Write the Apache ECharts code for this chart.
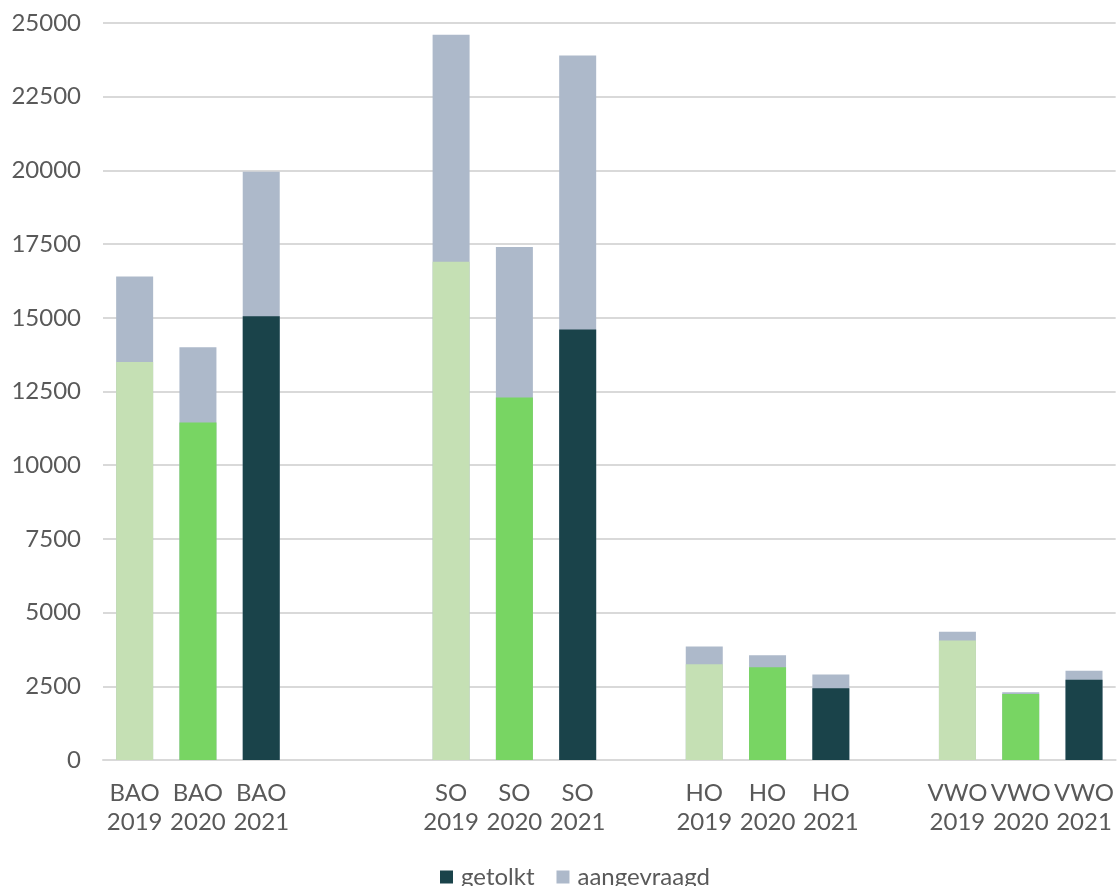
<!DOCTYPE html>
<html>
<head>
<meta charset="utf-8">
<script src="https://cdn.jsdelivr.net/npm/echarts@6/dist/echarts.min.js"></script>
<style>html,body{margin:0;padding:0;background:#fff}#c{width:1117px;height:886px}</style>
</head>
<body>
<div id="c"></div>
<script>
// Categories ('' = empty spacer slots between groups)
var categories = ['BAO\n2019','BAO\n2020','BAO\n2021','','','SO\n2019','SO\n2020','SO\n2021','','HO\n2019','HO\n2020','HO\n2021','','VWO\n2019','VWO\n2020','VWO\n2021'];
var years = ['2019','2020','2021',null,null,'2019','2020','2021',null,'2019','2020','2021',null,'2019','2020','2021'];
// getolkt (interpreted) values
var getolkt = [13500, 11450, 15050, null, null, 16900, 12300, 14600, null, 3250, 3150, 2430, null, 4050, 2240, 2720];
// aangevraagd (requested) totals
var aangevraagd = [16400, 14000, 19950, null, null, 24600, 17400, 23900, null, 3850, 3550, 2900, null, 4350, 2300, 3030];
var yearColors = {'2019':'#C5E0B4','2020':'#78D563','2021':'#1A434A'};
var yTicks = {min:0, max:25000, interval:2500};

var txt = '#595959';
var font = 'Lato, "Open Sans", sans-serif';
var chart = echarts.init(document.getElementById('c'));
chart.setOption({
  animation:false,
  textStyle:{fontFamily:font},
  grid:{left:103, right:0, top:23, bottom:126, containLabel:false},
  legend:{
    data:[{name:'getolkt', itemStyle:{color:'#1A434A'}},{name:'aangevraagd'}],
    bottom:-8, left:435, itemWidth:13, itemHeight:13, itemGap:22,
    icon:'rect',
    textStyle:{color:txt, fontSize:24, fontFamily:font, padding:[0,0,0,3]}
  },
  xAxis:{
    type:'category', data:categories,
    axisLine:{lineStyle:{color:'#d9d9d9', width:2}},
    axisTick:{show:false},
    axisLabel:{color:txt, fontSize:24, fontFamily:font, lineHeight:29, margin:19, interval:0}
  },
  yAxis:{
    type:'value', min:yTicks.min, max:yTicks.max, interval:yTicks.interval,
    axisLine:{show:false}, axisTick:{show:false},
    splitLine:{lineStyle:{color:'#d9d9d9', width:2}},
    axisLabel:{color:txt, fontSize:24, fontFamily:font, margin:22, formatter:function(v){return String(v);}}
  },
  series:[
    {name:'aangevraagd', type:'bar', data:aangevraagd, barWidth:37, barGap:'-100%',
     itemStyle:{color:'#ADB9CA'}, z:2},
    {name:'getolkt', type:'bar', barWidth:37, barGap:'-100%', z:3,
     itemStyle:{color:'#1A434A'},
     data:getolkt.map(function(v,i){ return v==null? null : {value:v, itemStyle:{color:yearColors[years[i]]}}; })}
  ]
});
</script>
</body>
</html>
